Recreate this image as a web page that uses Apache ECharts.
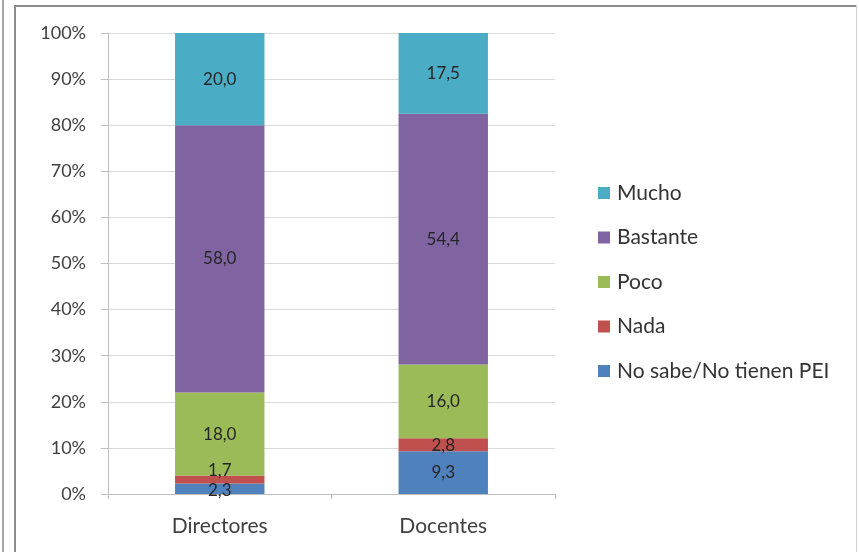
<!DOCTYPE html>
<html>
<head>
<meta charset="utf-8">
<script src="https://cdn.jsdelivr.net/npm/echarts@6/dist/echarts.min.js"></script>
<style>
  html, body { margin: 0; padding: 0; background: #fff; }
  #wrap { position: relative; width: 859px; height: 552px; overflow: hidden; }
  #chart { position: absolute; left: 0; top: 0; width: 859px; height: 552px; }
  .ln { position: absolute; background: #8c8c8c; }
</style>
</head>
<body>
<div id="wrap">
  <div id="chart"></div>
  <div class="ln" style="left:2px;top:0;width:2px;height:552px;background:#a6a6a6"></div>
  <div class="ln" style="left:14px;top:5px;width:2px;height:547px;"></div>
  <div class="ln" style="left:14px;top:5px;width:843px;height:2px;"></div>
  <div class="ln" style="left:856px;top:5px;width:1px;height:547px;background:#d0d0d0"></div>
</div>
<script>
const categories = ['Directores', 'Docentes'];
const seriesNames = ['No sabe/No tienen PEI', 'Nada', 'Poco', 'Bastante', 'Mucho'];
const noSabe = [2.3, 9.3];
const nada = [1.7, 2.8];
const poco = [18.0, 16.0];
const bastante = [58.0, 54.4];
const mucho = [20.0, 17.5];
const yTicks = [0, 10, 20, 30, 40, 50, 60, 70, 80, 90, 100];
const legendOrder = ['Mucho', 'Bastante', 'Poco', 'Nada', 'No sabe/No tienen PEI'];

const colors = ['#4F81BD', '#C0504D', '#9BBB59', '#8064A2', '#4BACC6'];
const values = [noSabe, nada, poco, bastante, mucho];
const labelOffsets = { '1-0': [0, -9], '0-0': [0, 2], '1-1': [0, 1] };

const chart = echarts.init(document.getElementById('chart'), null, { renderer: 'canvas' });
const fmt = v => v.toFixed(1).replace('.', ',');

chart.setOption({
  animation: false,
  backgroundColor: 'transparent',
  textStyle: { fontFamily: 'Lato' },
  grid: { left: 108, right: 304, top: 33, bottom: 58, containLabel: false },
  legend: {
    orient: 'vertical',
    left: 593,
    top: 177,
    data: legendOrder,
    icon: 'rect',
    itemWidth: 12,
    itemHeight: 12,
    itemGap: 22.5,
    textStyle: { fontFamily: 'Lato', fontSize: 21, color: '#333333', lineHeight: 22, padding: [0, 0, 0, 2] }
  },
  xAxis: {
    type: 'category',
    data: categories,
    axisLine: { lineStyle: { color: '#bfbfbf', width: 1 } },
    axisTick: { show: true, length: 5, lineStyle: { color: '#bfbfbf' } },
    axisLabel: { fontFamily: 'Lato', fontSize: 21, color: '#404040', margin: 22 }
  },
  yAxis: {
    type: 'value',
    min: 0, max: 100, interval: 10,
    axisLine: { show: true, lineStyle: { color: '#bfbfbf', width: 1 } },
    axisTick: { show: true, length: 7, lineStyle: { color: '#bfbfbf' } },
    splitLine: { lineStyle: { color: '#d9d9d9', width: 1 } },
    axisLabel: {
      fontFamily: 'Lato', fontSize: 18, color: '#404040', margin: 22,
      formatter: v => yTicks.includes(v) ? v + '%' : ''
    }
  },
  series: seriesNames.map((name, si) => ({
    name: name,
    type: 'bar',
    stack: 'total',
    barWidth: '40%',
    itemStyle: { color: colors[si] },
    label: {
      show: true,
      position: 'inside',
      fontFamily: 'Lato',
      fontSize: 17,
      color: '#262626',
      formatter: p => fmt(p.value)
    },
    data: values[si].map((v, ci) => {
      const off = labelOffsets[si + '-' + ci];
      return off ? { value: v, label: { offset: off } } : v;
    })
  }))
});
</script>
</body>
</html>
